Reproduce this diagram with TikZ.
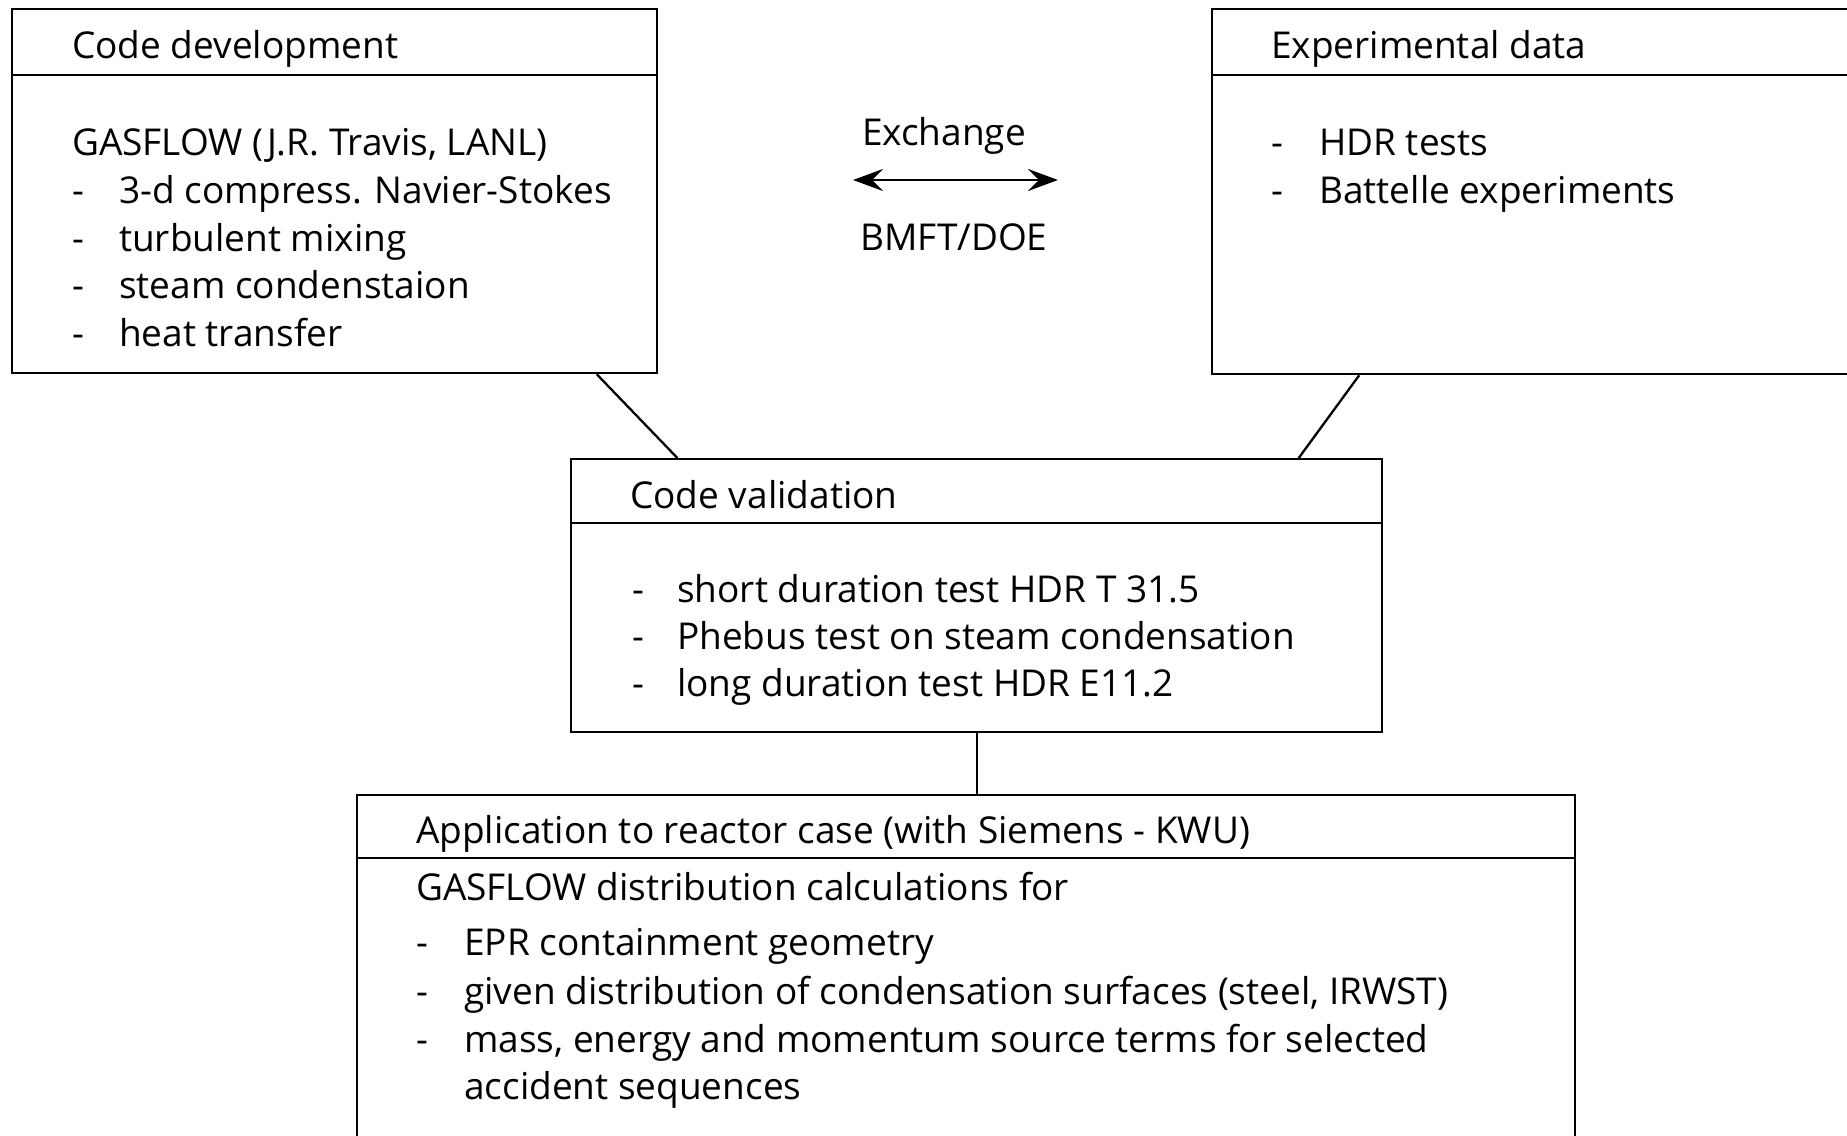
\documentclass[tikz,border=0pt]{standalone}
\usepackage{fontspec}
\setmainfont{Open Sans}
\usetikzlibrary{arrows.meta,calc}

\begin{document}
\begin{tikzpicture}[x=1pt,y=-1pt,font=\fontsize{37}{44}\selectfont,
    box/.style={draw,line width=2.3pt,inner sep=0pt,anchor=north west},
    txt/.style={anchor=mid west,inner sep=0pt},
    link/.style={line width=2.3pt}]
  \path[use as bounding box,clip] (0,0) rectangle (1847,1135);
  % the four boxes
  \node[box,minimum width=645pt,minimum height=364pt] (dev) at (11,8) {};
  \node[box,minimum width=700pt,minimum height=365pt] (exp) at (1211,8) {};
  \node[box,minimum width=811pt,minimum height=273pt] (valid) at (570,458) {};
  \node[box,minimum width=1218pt,minimum height=400pt] (app) at (356,794) {};
  \foreach \b/\h in {dev/67,exp/67,valid/65,app/64}
    \draw[link] ($(\b.north west)+(0,\h)$) -- ($(\b.north east)+(0,\h)$);
  % connectors
  \draw[link] ($(dev.south west)!0.905!(dev.south east)$) -- ($(valid.north west)!0.132!(valid.north east)$);
  \draw[link] ($(exp.south west)!0.211!(exp.south east)$) -- ($(valid.north west)!0.896!(valid.north east)$);
  \draw[link] (valid.south) -- (valid.south |- app.north);
  % exchange
  \node[inner sep=0pt] (exch) at (944,136) {Exchange};
  \node[inner sep=0pt] (bmft) at (954,237) {BMFT/DOE};
  \coordinate (exl) at (853,180);
  \coordinate (exr) at (1058,180);
  \draw[line width=2.4pt,{Stealth[length=30pt,width=22pt,inset=11pt]}-{Stealth[length=30pt,width=22pt,inset=11pt]}] (exl) -- (exr);
  % code development
  \node[txt] (devtitle) at (72,56) {Code development};
  \node[txt] (gasflow) at (72,153) {GASFLOW (J.R. Travis, LANL)};
  \foreach \t [count=\i] in {3-d compress. Navier-Stokes,turbulent mixing,steam condenstaion,heat transfer}{
    \node[txt] (devd\i) at (72,{153+47.7*\i}) {-};
    \node[txt] (devt\i) at (119,{153+47.7*\i}) {\t};
  }
  % experimental data
  \node[txt] (exptitle) at (1271,56) {Experimental data};
  \foreach \t [count=\i] in {HDR tests,Battelle experiments}{
    \node[txt] (expd\i) at (1271,{106+47.3*\i}) {-};
    \node[txt] (expt\i) at (1319,{106+47.3*\i}) {\t};
  }
  % code validation
  \node[txt] (validtitle) at (630,506) {Code validation};
  \foreach \t [count=\i] in {short duration test HDR T 31.5,Phebus test on steam condensation,long duration test HDR E11.2}{
    \node[txt] (vald\i) at (632,{553+47*\i}) {-};
    \node[txt] (valt\i) at (677,{553+47*\i}) {\t};
  }
  % application
  \node[txt] (apptitle) at (416,841) {Application to reactor case (with Siemens - KWU)};
  \node[txt] (appfor) at (416,898) {GASFLOW distribution calculations for};
  \foreach \t [count=\i] in {EPR containment geometry,{given distribution of condensation surfaces (steel, IRWST)},{mass, energy and momentum source terms for selected}}{
    \node[txt] (appd\i) at (416,{905+48.3*\i}) {-};
    \node[txt] (appt\i) at (464,{905+48.3*\i}) {\t};
  }
  \node[txt] (appt4) at (464,1097) {accident sequences};
\end{tikzpicture}
\end{document}
